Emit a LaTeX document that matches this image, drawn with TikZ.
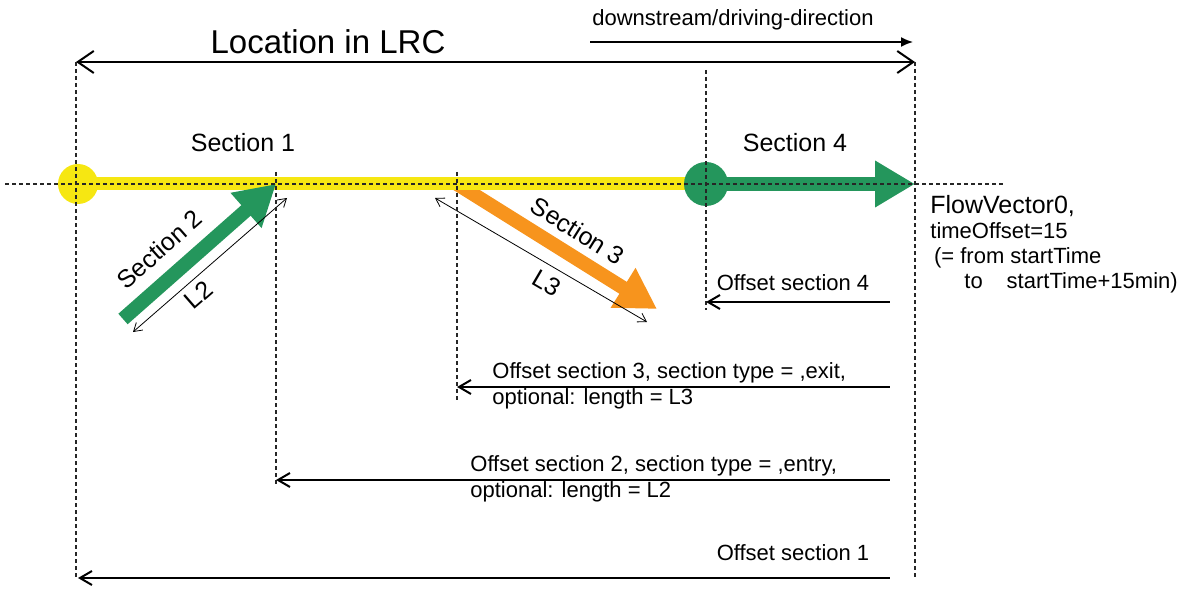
\documentclass[tikz,border=0pt]{standalone}
\usepackage{fontspec}
\setmainfont{Liberation Sans}
\usetikzlibrary{arrows.meta}
\definecolor{secyellow}{RGB}{246,231,18}
\definecolor{secgreen}{RGB}{36,150,92}
\definecolor{secorange}{RGB}{247,148,29}

\begin{document}
\begin{tikzpicture}[x=0.5pt, y=-0.5pt,
guide/.style={line width=0.55pt, black!85, dash pattern=on 2pt off 1.5pt},
offarr/.style={line width=1pt, {Straight Barb[length=6pt,width=7pt]}-},
toparr/.style={line width=1pt, {Straight Barb[length=8pt,width=11pt]}-{Straight Barb[length=8pt,width=11pt]}},
dirarr/.style={line width=0.8pt, -{Latex[length=6pt,width=5pt]}},
dimarr/.style={line width=0.4pt, {Straight Barb[length=4pt,width=5pt]}-{Straight Barb[length=4pt,width=5pt]}},
fat/.style={line width=7pt, -{Triangle[length=20pt,width=22pt]}},
lbl/.style={inner sep=1pt, font=\fontsize{11}{13}\selectfont},
seclbl/.style={inner sep=1pt, text=black, font=\fontsize{12.5}{15}\selectfont}]
\useasboundingbox (0,0) rectangle (1197,588);
% points on the road
\coordinate (p1) at (78,184);
\coordinate (p2) at (276,184);
\coordinate (p3) at (457,184);
\coordinate (p4) at (706,184);
\coordinate (p5) at (915,184);
\coordinate (hl) at (5,184);
\coordinate (hr) at (1003,184);
%
\coordinate (lrcL) at (76,62);
\coordinate (lrcR) at (915,62);
\coordinate (dirL) at (590,42);
\coordinate (dirR) at (913,42);
\node[font=\fontsize{16.5}{19}\selectfont] (title) at (328,42) {Location in LRC};
\node[lbl] (dir) at (733,20) {downstream/driving-direction};
\draw[toparr] (lrcL) -- (lrcR);
\draw[dirarr] (dirL) -- (dirR);
%
\node[seclbl] (sec1) at (243,143) {Section 1};
\node[seclbl] (sec4) at (795,143) {Section 4};
%
\coordinate (s3b) at (657,309);
\draw[fat, secorange] (p3) -- node[seclbl, sloped, above=3pt, pos=0.54] (sec3) {Section 3} (s3b);
\draw[line width=6.5pt, secyellow] (p1) -- (p4);
\fill[secyellow] (p1) circle[radius=10pt];
\fill[secgreen] (p4) circle[radius=11pt];
\draw[fat, secgreen] (p4) -- (p5);
\coordinate (s2a) at (123,319);
\draw[fat, secgreen] (s2a) -- node[seclbl, sloped, above=5pt, pos=0.36] (sec2) {Section 2} (p2);
%
\coordinate (l2a) at (133,332);
\coordinate (l2b) at (287,198);
\draw[dimarr] (l2a) -- node[seclbl, sloped, below=2pt, pos=0.36] (len2) {L2} (l2b);
\coordinate (l3a) at (435,198);
\coordinate (l3b) at (647,322);
\draw[dimarr] (l3a) -- node[seclbl, sloped, below=3pt, pos=0.57] (len3) {L3} (l3b);
%
\draw[guide] (hl) -- (hr);
\draw[guide] (lrcL) -- (76,580);
\draw[guide] (276,172) -- (276,487);
\draw[guide] (457,172) -- (457,400);
\draw[guide] (706,70) -- (706,310);
\draw[guide] (lrcR) -- (915,580);
%
\node[anchor=north west, align=left, inner sep=0pt, font=\fontsize{11}{12.5}\selectfont] (fv) at (930,195)
  {{\fontsize{12.5}{16}\selectfont FlowVector0,}\\timeOffset=15\\ \,(= from startTime\\\hspace{17pt}to\hspace{12pt}startTime+15min)};
%
\coordinate (o4) at (890,302);
\coordinate (o3) at (890,387);
\coordinate (o2) at (890,480);
\coordinate (o1) at (890,578);
\draw[offarr] (p4 |- o4) -- (o4);
\draw[offarr] (p3 |- o3) -- (o3);
\draw[offarr] (p2 |- o2) -- (o2);
\draw[offarr] (p1 |- o1) -- (o1);
\node[lbl] (off4) at (793,283) {Offset section 4};
\node[lbl, anchor=west, align=left] (off3) at (490,386) {Offset section 3, section type = ,exit,\\optional: length = L3};
\node[lbl, anchor=west, align=left] (off2) at (468,479) {Offset section 2, section type = ,entry,\\optional: length = L2};
\node[lbl] (off1) at (793,553) {Offset section 1};
\end{tikzpicture}
\end{document}
